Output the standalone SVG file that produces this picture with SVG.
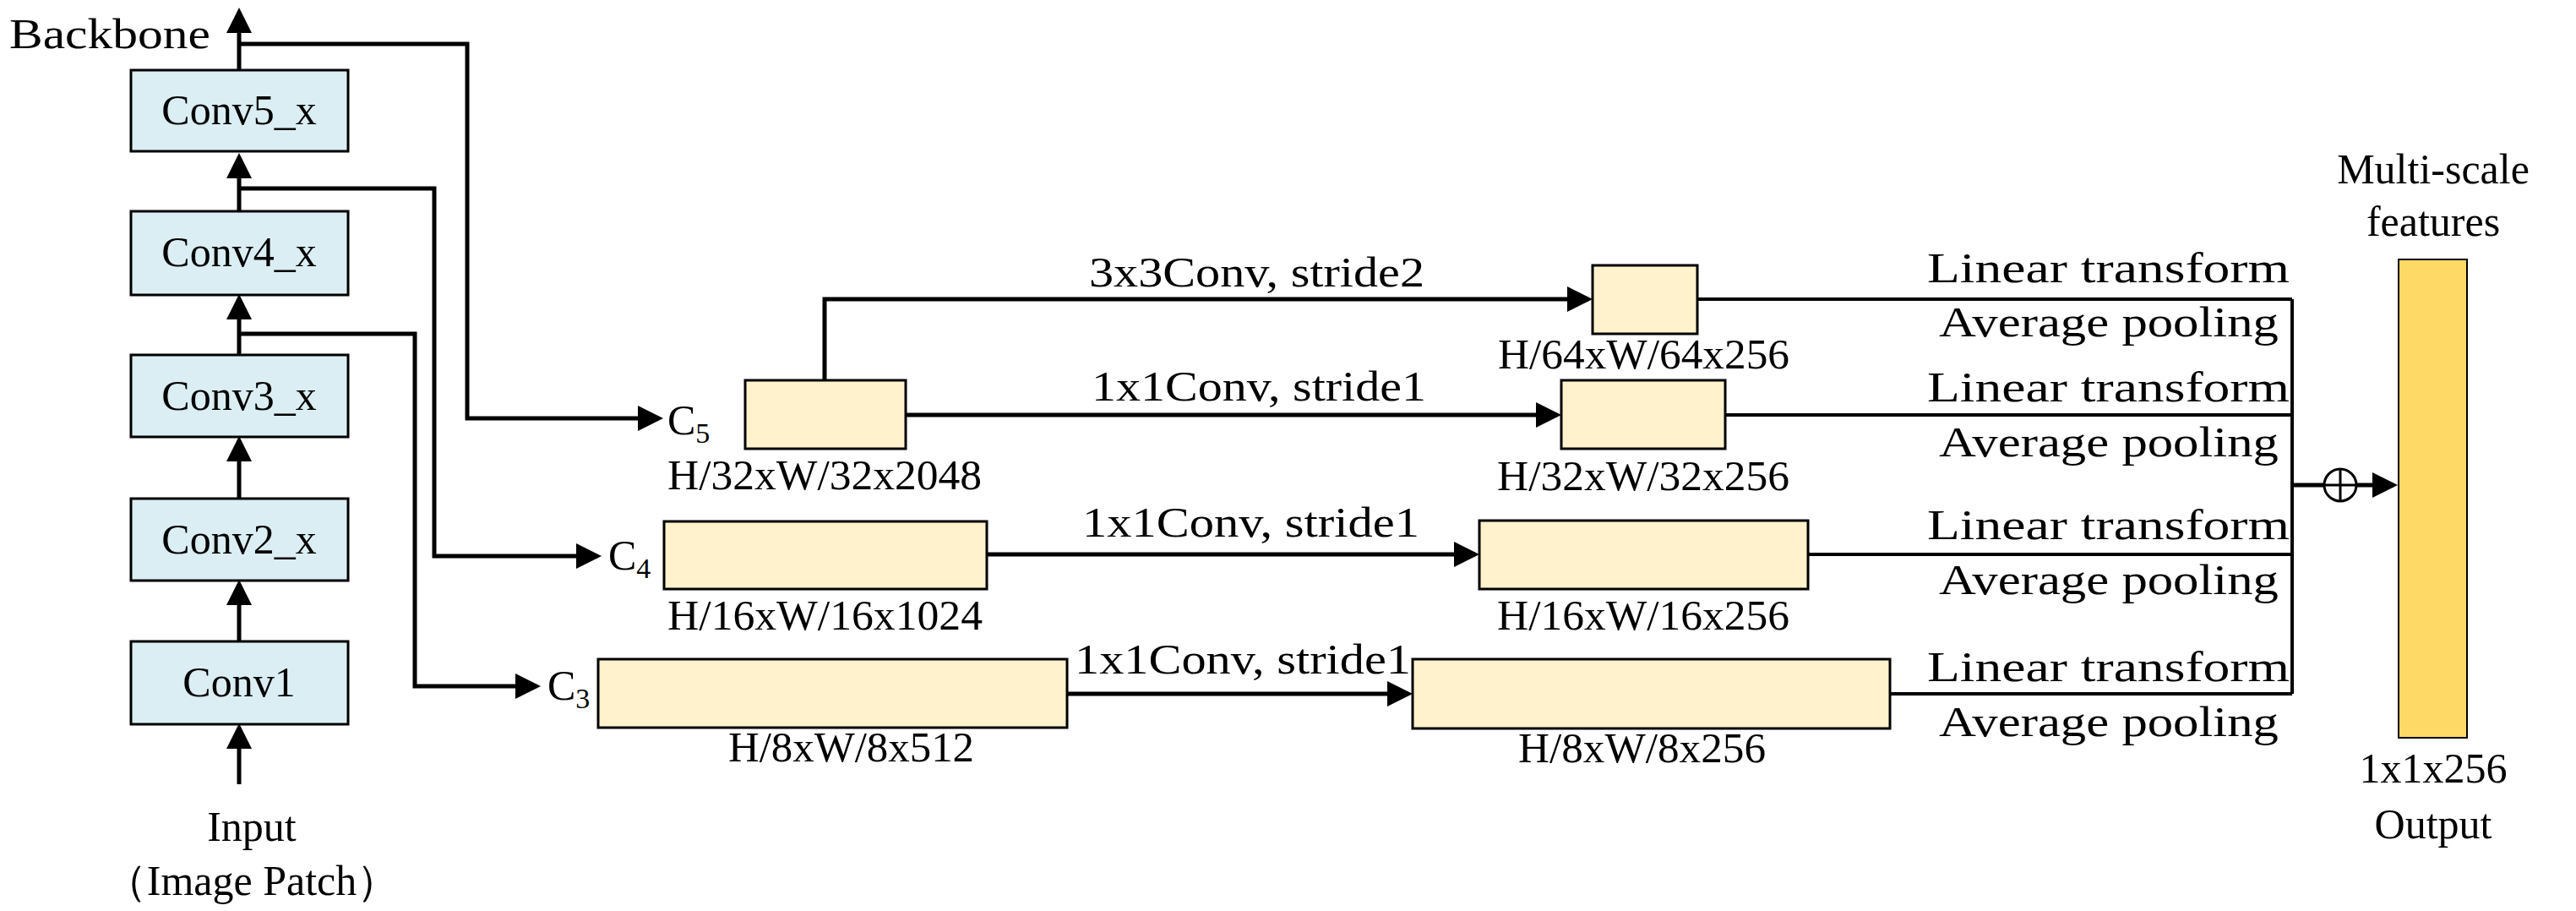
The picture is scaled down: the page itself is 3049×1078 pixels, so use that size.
<svg xmlns="http://www.w3.org/2000/svg" width="3049" height="1078" viewBox="0 0 3049 1078">
<style>
text{font-family:"Liberation Serif",serif;font-size:50px;fill:#000}
.bb{fill:#DBEEF4;stroke:#000;stroke-width:3}
.cr{fill:#FFF2CC;stroke:#000;stroke-width:3}
.ln{fill:none;stroke:#000;stroke-width:5}
.thin{fill:none;stroke:#000;stroke-width:4}
</style>
<defs>
<marker id="ah" markerWidth="6" markerHeight="6" refX="5" refY="3" orient="auto" markerUnits="strokeWidth"><path d="M0,0 L6,3 L0,6 Z" fill="#000"/></marker>
</defs>
<rect width="3049" height="1078" fill="#fff"/>
<g id="connectors">
<path class="ln" d="M283,83 V14" marker-end="url(#ah)"/>
<path class="ln" d="M283,250 V186" marker-end="url(#ah)"/>
<path class="ln" d="M283,420 V353" marker-end="url(#ah)"/>
<path class="ln" d="M283,590 V521" marker-end="url(#ah)"/>
<path class="ln" d="M283,759 V691" marker-end="url(#ah)"/>
<path class="ln" d="M283,928 V861" marker-end="url(#ah)"/>
<path class="ln" d="M283,52 H553 V495 H780" marker-end="url(#ah)"/>
<path class="ln" d="M283,223 H514 V658 H707" marker-end="url(#ah)"/>
<path class="ln" d="M283,395 H491 V812 H635" marker-end="url(#ah)"/>
<path class="ln" d="M976,450 V354 H1880" marker-end="url(#ah)"/>
<path class="ln" d="M1072,491 H1843" marker-end="url(#ah)"/>
<path class="ln" d="M1168,656 H1746" marker-end="url(#ah)"/>
<path class="ln" d="M1263,821 H1667" marker-end="url(#ah)"/>
<path class="thin" d="M2009,354 H2713 M2042,491 H2713 M2140,656 H2713 M2237,821 H2713 M2713,354 V821"/>
<path class="ln" d="M2713,574 H2833" marker-end="url(#ah)"/>
<circle cx="2770" cy="574" r="19" fill="#fff" stroke="#000" stroke-width="3"/>
<path d="M2751,574 H2789 M2770,555 V593" stroke="#000" stroke-width="3"/>
</g>
<text x="11" y="57" textLength="238" lengthAdjust="spacingAndGlyphs">Backbone</text>
<g id="conv5"><rect class="bb" x="155" y="83" width="257" height="96"/><text x="283" y="147" text-anchor="middle">Conv5_x</text></g>
<g id="conv4"><rect class="bb" x="155" y="250" width="257" height="99"/><text x="283" y="315" text-anchor="middle">Conv4_x</text></g>
<g id="conv3"><rect class="bb" x="155" y="420" width="257" height="97"/><text x="283" y="485" text-anchor="middle">Conv3_x</text></g>
<g id="conv2"><rect class="bb" x="155" y="590" width="257" height="97"/><text x="283" y="655" text-anchor="middle">Conv2_x</text></g>
<g id="conv1"><rect class="bb" x="155" y="759" width="257" height="98"/><text x="283" y="824" text-anchor="middle">Conv1</text></g>
<g id="input"><text x="298" y="995" text-anchor="middle">Input</text><text x="298" y="1059" text-anchor="middle">（Image Patch）</text></g>
<g id="c5"><text x="790" y="514">C<tspan font-size="34" dy="10">5</tspan></text><rect class="cr" x="882" y="450" width="190" height="81"/><text x="790" y="579" textLength="372" lengthAdjust="spacingAndGlyphs">H/32xW/32x2048</text></g>
<g id="c4"><text x="720" y="674">C<tspan font-size="34" dy="10">4</tspan></text><rect class="cr" x="786" y="617" width="382" height="80"/><text x="790" y="745" textLength="373" lengthAdjust="spacingAndGlyphs">H/16xW/16x1024</text></g>
<g id="c3"><text x="648" y="828">C<tspan font-size="34" dy="10">3</tspan></text><rect class="cr" x="708" y="780" width="555" height="81"/><text x="862" y="901" textLength="291" lengthAdjust="spacingAndGlyphs">H/8xW/8x512</text></g>
<g id="p64"><rect class="cr" x="1885" y="314" width="124" height="81"/><text x="1773" y="436" textLength="345" lengthAdjust="spacingAndGlyphs">H/64xW/64x256</text><text x="1289" y="339" textLength="397" lengthAdjust="spacingAndGlyphs">3x3Conv, stride2</text></g>
<g id="p32"><rect class="cr" x="1848" y="450" width="194" height="81"/><text x="1772" y="580" textLength="346" lengthAdjust="spacingAndGlyphs">H/32xW/32x256</text><text x="1292" y="474" textLength="396" lengthAdjust="spacingAndGlyphs">1x1Conv, stride1</text></g>
<g id="p16"><rect class="cr" x="1751" y="616" width="389" height="81"/><text x="1772" y="745" textLength="346" lengthAdjust="spacingAndGlyphs">H/16xW/16x256</text><text x="1281" y="635" textLength="399" lengthAdjust="spacingAndGlyphs">1x1Conv, stride1</text></g>
<g id="p8"><rect class="cr" x="1672" y="780" width="565" height="82"/><text x="1797" y="902" textLength="293" lengthAdjust="spacingAndGlyphs">H/8xW/8x256</text><text x="1272" y="797" textLength="398" lengthAdjust="spacingAndGlyphs">1x1Conv, stride1</text></g>
<g id="labels">
<text x="2281" y="334" textLength="429" lengthAdjust="spacingAndGlyphs">Linear transform</text>
<text x="2295" y="398" textLength="402" lengthAdjust="spacingAndGlyphs">Average pooling</text>
<text x="2281" y="475" textLength="429" lengthAdjust="spacingAndGlyphs">Linear transform</text>
<text x="2295" y="540" textLength="402" lengthAdjust="spacingAndGlyphs">Average pooling</text>
<text x="2281" y="638" textLength="429" lengthAdjust="spacingAndGlyphs">Linear transform</text>
<text x="2295" y="703" textLength="402" lengthAdjust="spacingAndGlyphs">Average pooling</text>
<text x="2281" y="806" textLength="429" lengthAdjust="spacingAndGlyphs">Linear transform</text>
<text x="2295" y="871" textLength="402" lengthAdjust="spacingAndGlyphs">Average pooling</text>
</g>
<g id="output"><rect x="2839" y="307" width="81" height="566" fill="#FFD966" stroke="#000" stroke-width="2"/>
<text x="2880" y="217" text-anchor="middle">Multi-scale</text><text x="2880" y="279" text-anchor="middle">features</text>
<text x="2880" y="926" text-anchor="middle">1x1x256</text><text x="2880" y="992" text-anchor="middle">Output</text></g>
</svg>
